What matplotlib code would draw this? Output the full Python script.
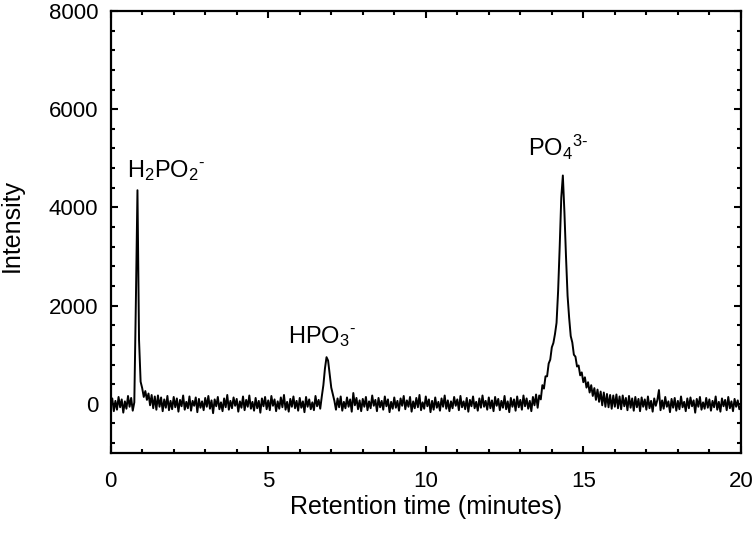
import numpy as np
import matplotlib
matplotlib.use("Agg")
import matplotlib.pyplot as plt
from matplotlib.ticker import MultipleLocator

plt.rcParams['font.family'] = ['Liberation Sans', 'DejaVu Sans']
plt.rcParams['mathtext.fontset'] = 'custom'
plt.rcParams['mathtext.rm'] = 'Liberation Sans'
plt.rcParams['mathtext.default'] = 'regular'

# chromatogram, one sample every 0.05 min (0 .. 20 min)
step = 0.05
intensity = [
    # 0 min
    -40, 110, -150, 60, -120, 140, -70, 90, -180, 50, -100, 160, -60, 120, -140, 30, 2100, 4350, 1300, 450,
    # 1 min
    320, 140, 260, 80, 210, -30, 180, -90, 150, -120, 170, -60, 130, -150, 90, -80, 160, -130, 60, -110,
    # 2 min
    140, -70, 110, -160, 80, -50, 170, -120, 40, -90, 150, -140, 60, -40, 130, -170, 100, -80, 50, -130,
    # 3 min
    120, -60, 160, -100, 70, -190, 90, -50, 140, -110, 30, -150, 110, -70, 180, -120, 60, -90, 130, -40,
    # 4 min
    100, -160, 50, -80, 150, -130, 80, -60, 170, -100, 40, -140, 120, -90, 60, -180, 110, -50, 140, -110,
    # 5 min
    70, -130, 160, -40, 90, -150, 50, -100, 130, -70, 180, -120, 40, -160, 100, -60, 150, -90, 60, -140,
    # 6 min
    120, -80, 50, -170, 140, -60, 90, -110, 30, -130, 160, -50, 80, -100, 150, 380, 720, 950, 880, 600,
    # 7 min
    330, 190, 60, -120, 110, -70, 150, -140, 40, -90, 130, -60, 90, -160, 220, -30, 120, -110, 70, -150,
    # 8 min
    100, -60, 140, -130, 50, -90, 170, -40, 80, -150, 120, -70, 60, -120, 150, -50, 90, -170, 40, -100,
    # 9 min
    130, -80, 60, -140, 110, -40, 160, -110, 70, -60, 140, -160, 50, -90, 120, -70, 180, -130, 30, -100,
    # 10 min
    150, -50, 90, -170, 60, -120, 130, -80, 40, -140, 110, -60, 170, -100, 70, -150, 50, -90, 140, -40,
    # 11 min
    90, -130, 160, -70, 50, -110, 120, -160, 80, -50, 150, -90, 40, -140, 110, -80, 170, -60, 60, -120,
    # 12 min
    130, -90, 70, -150, 140, -40, 100, -130, 60, -80, 160, -110, 50, -170, 120, -60, 90, -140, 150, -70,
    # 13 min
    80, -120, 170, -50, 110, -100, 60, -150, 140, -30, 190, -80, 170, 90, 380, 310, 560, 560, 820, 900,
    # 14 min
    1150, 1240, 1420, 1650, 2300, 3200, 4200, 4650, 3900, 3000, 2200, 1750, 1380, 1250, 1000, 960, 760, 780, 580, 640,
    # 15 min
    440, 540, 330, 440, 230, 380, 160, 320, 80, 290, 40, 250, -30, 230, -60, 200, -70, 180, -100, 170,
    # 16 min
    -60, 190, -90, 150, -110, 170, -50, 120, -130, 160, -80, 110, -140, 140, -70, 100, -150, 130, -60, 90,
    # 17 min
    -120, 150, -90, 60, -160, 110, -40, 80, 280, -130, 70, -100, 140, -60, 50, -170, 100, -80, 120, -140,
    # 18 min
    60, -110, 150, -70, 40, -150, 110, -90, 130, -50, 70, -180, 100, -60, 140, -120, 30, -100, 120, -80,
    # 19 min
    90, -140, 60, -70, 150, -120, 40, -160, 110, -50, 80, -130, 140, -90, 50, -150, 100, -60, 70, -110,
    # 20 min
    -40,
]
time = np.arange(len(intensity)) * step

peak_labels = [r'H$_2$PO$_2$$^{\text{-}}$', r'HPO$_3$$^{\text{-}}$', r'PO$_4$$^{3\text{-}}$']
label_x = [1.76, 6.71, 14.19]
label_y = [4620, 1240, 5040]

fig = plt.figure(figsize=(7.56, 5.36), dpi=100)
ax = fig.add_axes([0.1464, 0.155, 0.8336, 0.8245])

ax.plot(time, intensity, color='black', lw=1.4)

for txt, x, y in zip(peak_labels, label_x, label_y):
    ax.text(x, y, txt, ha='center', va='baseline', fontsize=17)

ax.set_xlim(0, 20)
ax.set_ylim(-1000, 8000)
ax.set_yticks([0, 2000, 4000, 6000, 8000])
ax.xaxis.set_major_locator(MultipleLocator(5))
ax.xaxis.set_minor_locator(MultipleLocator(1))
ax.yaxis.set_minor_locator(MultipleLocator(400))

ax.tick_params(which='both', direction='in', top=True, right=True, width=1.5, labelsize=16)
ax.tick_params(which='major', length=5)
ax.tick_params(which='minor', length=3)
ax.tick_params(axis='x', which='major', pad=13)
ax.tick_params(axis='y', which='major', pad=9)
for sp in ax.spines.values():
    sp.set_linewidth(1.6)

ax.set_xlabel('Retention time (minutes)', fontsize=18, labelpad=2)
ax.set_ylabel('Intensity', fontsize=18)
ax.yaxis.set_label_coords(-0.1376, 0.514)

fig.savefig('out.png', dpi=100)
